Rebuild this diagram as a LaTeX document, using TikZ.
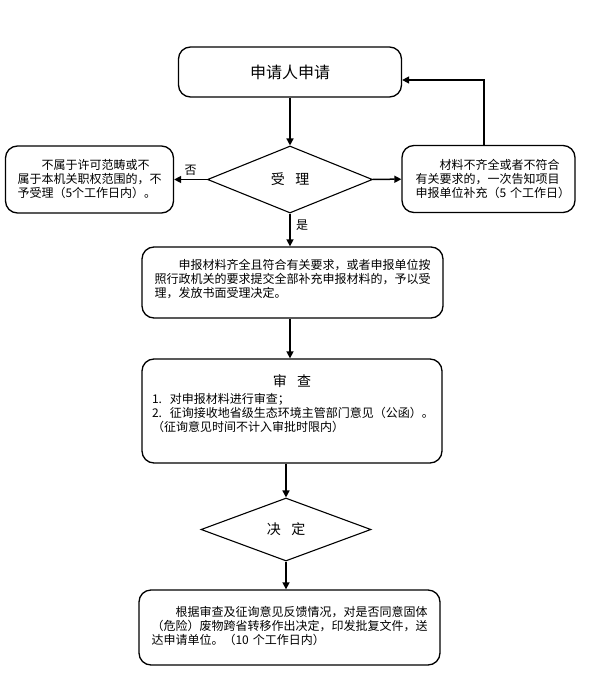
\documentclass[tikz,border=0pt]{standalone}
\usepackage{fontspec}
\setmainfont{Noto Sans CJK SC}
\usetikzlibrary{arrows.meta, positioning, shapes.geometric}

% extra room below the text of a box
\newcommand{\padbelow}[1]{\par\vspace{#1}\hrule height 0pt}

\begin{document}
\begin{tikzpicture}[x=1pt, y=-1pt,
    box/.style={draw, line width=1.3pt, rounded corners=12pt, align=left, inner sep=0pt,
      font=\fontsize{12}{14}\selectfont},
    check/.style={draw, diamond, aspect=2.5, line width=1.1pt, inner sep=0pt,
      font=\fontsize{14}{16}\selectfont},
    arrow/.style={line width=1.5pt, -{Triangle[length=7pt, width=7pt]}},
    tag/.style={font=\fontsize{12}{14}\selectfont}]
      \useasboundingbox (0,0) rectangle (593,685);

      % Application
      \node[box, align=center, minimum width=223pt, minimum height=50pt,
        font=\fontsize{16}{18}\selectfont] (apply) at (290,72) {申请人申请};

      % Acceptance check
      \node[check, minimum width=165pt, minimum height=67pt] (accept) at (290,179.5)
        {受\hspace{0.75em}理};
      \node[box, minimum width=168pt, minimum height=67pt, text width=144pt] (reject) at (89.5,179.5)
        {\noindent\hspace*{2em}不属于许可范畴或不\\属于本机关职权范围的，不\\予受理（5个工作日内）。};
      \node[box, minimum width=173pt, minimum height=67pt, text width=146pt] (supplement) at (488.5,179)
        {\noindent\hspace*{2em}材料不齐全或者不符合\\有关要求的，一次告知项目\\申报单位补充（5~个工作日）};

      % Accepted
      \node[box, minimum width=301pt, minimum height=71pt, text width=276pt] (accepted) at (292.5,282.5)
        {\noindent\hspace*{2em}申报材料齐全且符合有关要求，或者申报单位按\\照行政机关的要求提交全部补充申报材料的，予以受\\理，发放书面受理决定。\padbelow{6pt}};

      % Review
      \node[box, minimum width=300pt, minimum height=104pt, text width=280pt] (review) at (292,411)
        {{\centering\fontsize{14}{17}\selectfont 审\hspace{0.75em}查\par}\vspace{3pt}
         1.~~对申报材料进行审查；\\
         2.~~征询接收地省级生态环境主管部门意见（公函）。\\
         （征询意见时间不计入审批时限内）\padbelow{14pt}};

      % Decision
      \node[check, minimum width=170pt, minimum height=63pt] (decide) at (286,529.5)
        {决\hspace{0.75em}定};
      \node[box, minimum width=301pt, minimum height=75pt, text width=276pt] (result) at (289.5,627.5)
        {\noindent\hspace*{2em}根据审查及征询意见反馈情况，对是否同意固体\\（危险）废物跨省转移作出决定，印发批复文件，送\\达申请单位。（10~个工作日内）\padbelow{4pt}};

      % Connectors
      \draw[arrow] (apply) -- (accept);
      \draw[arrow] (accept) -- node[tag, above] {否} (reject);
      \draw[arrow] (accept) -- (supplement);
      \draw[arrow] ([xshift=-4.5pt]supplement.north) |- ([yshift=-8pt]apply.east);
      \draw[arrow] (accept) -- node[tag, right, pos=0.35, xshift=2pt] {是} (accept.south |- accepted.north);
      \draw[arrow] (accepted.south -| accept) -- (review.north -| accept);
      \draw[arrow] (review.south -| decide) -- (decide);
      \draw[arrow] (decide) -- (decide.south |- result.north);
    \end{tikzpicture}
\end{document}
